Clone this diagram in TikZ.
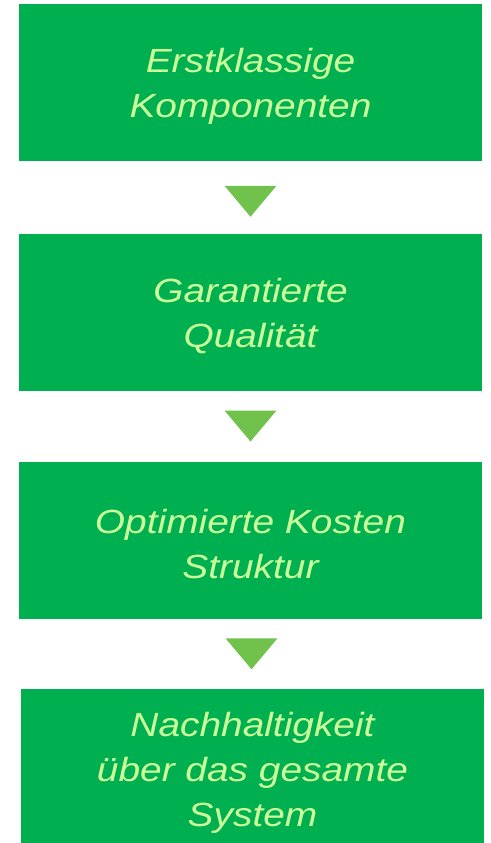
\documentclass[tikz,border=0pt]{standalone}
\usepackage{fontspec}
\setmainfont{Liberation Sans}[FakeStretch=1.16]
\usepackage{xcolor}
\usetikzlibrary{
    calc,
    positioning
}
\definecolor{boxgreen}{HTML}{00B050}
\definecolor{arrowgreen}{HTML}{70C24C}
\definecolor{textgreen}{HTML}{CCFF99}
\tikzset{
    stepbox/.style={fill=boxgreen, minimum width=463pt, minimum height=157pt, inner sep=0pt},
    steptext/.style={text=textgreen, align=center, yshift=-4pt, font=\fontsize{33.5}{45}\selectfont\itshape},
    downtri/.style={fill=arrowgreen}
}

\begin{document}
\begin{tikzpicture}[x=1pt, y=-1pt]
                        \clip (0, 0) rectangle (490, 843);
                        \node[stepbox, label={[steptext]center:{Erstklassige\\Komponenten}}] (b1) at (250.5, 82.5) {};
                        \node[stepbox, label={[steptext]center:{Garantierte\\Qualität}}] (b2) at (250.5, 312) {};
                        \node[stepbox, label={[steptext]center:{Optimierte Kosten\\Struktur}}] (b3) at (250.5, 540) {};
                        \node[stepbox, minimum height=160pt,
                            label={[steptext]center:{Nachhaltigkeit\\über das gesamte\\System}}] (b4) at (252.5, 769) {};

                        \foreach \a/\b/\d in {b1/b2/4, b2/b3/0, b3/b4/0}
                            \fill[downtri] ($(\a.south)!0.5!(\b.north)+(-26,-15.5+\d)$) -- ++(52,0)
                                -- ($(\a.south)!0.5!(\b.north)+(0,15.5+\d)$) -- cycle;
                    \end{tikzpicture}
\end{document}
